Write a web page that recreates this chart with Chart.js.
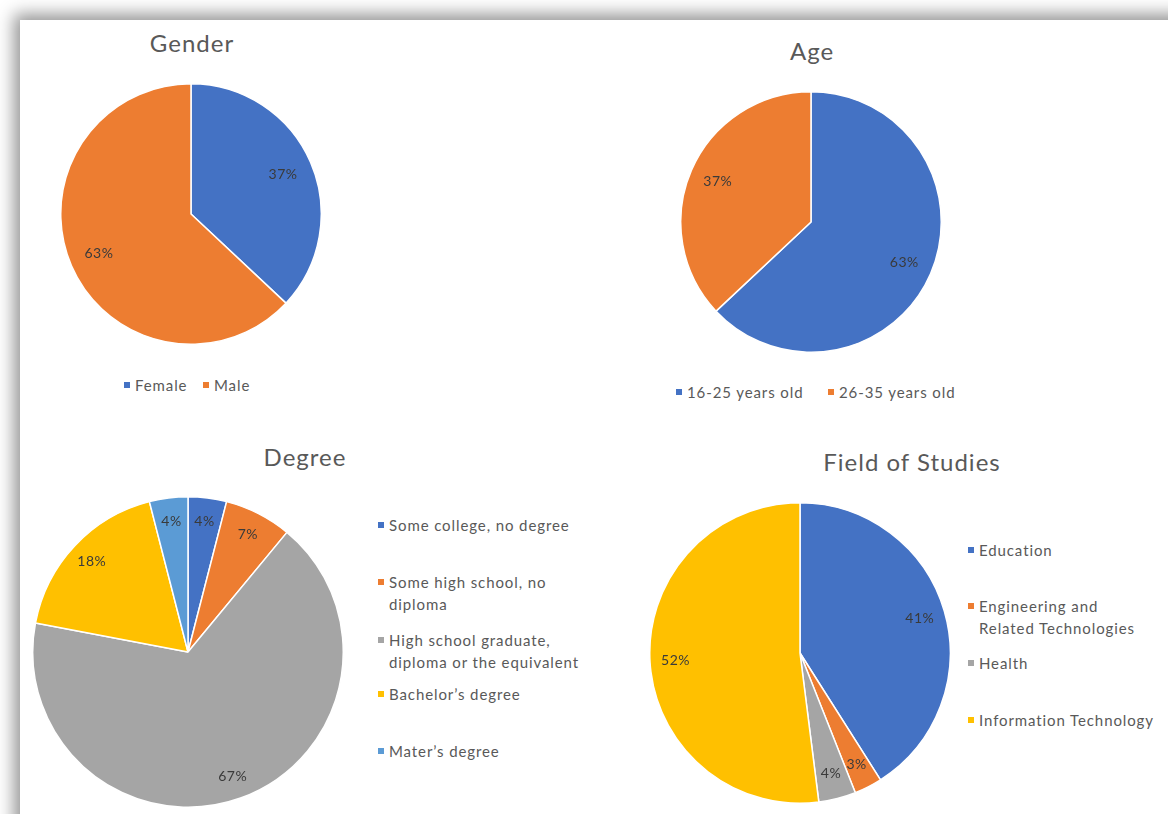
<!DOCTYPE html>
<html>
<head>
<meta charset="utf-8">
<script src="https://cdn.jsdelivr.net/npm/chart.js@4.4.1/dist/chart.umd.min.js"></script>
<style>
  html, body { margin: 0; padding: 0; background: #fff; overflow: hidden; }
  body { width: 1168px; height: 814px; position: relative; font-family: Lato, "Noto Sans", sans-serif; }
  #panel {
    position: absolute; left: 20px; top: 20px; width: 1200px; height: 860px;
    background: #fff; box-shadow: 0 0 16px 6px rgba(0,0,0,0.42);
  }
  .pie { position: absolute; }
  .title { position: absolute; transform: translate(-50%, -50%); color: #595959; font-size: 24px; letter-spacing: 1px; white-space: nowrap; }
  .leg { position: absolute; color: #595959; font-size: 15px; letter-spacing: 0.9px; line-height: 22px; white-space: nowrap; }
  .leg i { display: inline-block; width: 6px; height: 6px; margin-right: 5px; vertical-align: 3px; }
</style>
</head>
<body>
<div id="panel"></div>
<div id="root"></div>
<script>
// Datos de cada gráfico
const genderLabels = ['Female', 'Male'];
const genderValues = [37, 63];

const ageLabels = ['16-25 years old', '26-35 years old'];
const ageValues = [63, 37];

const degreeLabels = ['Some college, no degree', 'Some high school, no diploma',
  'High school graduate, diploma or the equivalent', 'Bachelor\u2019s degree', 'Mater\u2019s degree'];
const degreeValues = [4, 7, 67, 18, 4];

const fieldLabels = ['Education', 'Engineering and Related Technologies', 'Health', 'Information Technology'];
const fieldValues = [41, 3, 4, 52];

const BLUE = '#4472C4', ORANGE = '#ED7D31', GRAY = '#A5A5A5', YELLOW = '#FFC000', LIGHTBLUE = '#5B9BD5';

// Etiquetas de porcentaje dentro de cada porción
const pctLabels = {
  id: 'pctLabels',
  afterDatasetsDraw(chart, args, opts) {
    const ctx = chart.ctx;
    const meta = chart.getDatasetMeta(0);
    const values = chart.data.datasets[0].data;
    ctx.save();
    ctx.font = '14px Lato, "Noto Sans", sans-serif';
    ctx.letterSpacing = '0.5px';
    ctx.fillStyle = '#3a3a3a';
    ctx.textAlign = 'center';
    ctx.textBaseline = 'middle';
    meta.data.forEach((arc, i) => {
      const p = arc.getProps(['x', 'y', 'startAngle', 'endAngle', 'outerRadius'], true);
      const mid = (p.startAngle + p.endAngle) / 2;
      const r = p.outerRadius * (opts.frac || 0.78);
      ctx.fillText(values[i] + '%', p.x + Math.cos(mid) * r, p.y + Math.sin(mid) * r);
    });
    ctx.restore();
  }
};

const root = document.getElementById('root');

function makePie(cfg) {
  const size = cfg.r * 2 + 2;
  const canvas = document.createElement('canvas');
  canvas.className = 'pie';
  canvas.width = size; canvas.height = size;
  canvas.style.left = (cfg.cx - size / 2) + 'px';
  canvas.style.top = (cfg.cy - size / 2) + 'px';
  canvas.style.width = size + 'px';
  canvas.style.height = size + 'px';
  root.appendChild(canvas);

  new Chart(canvas, {
    type: 'pie',
    data: {
      labels: cfg.labels,
      datasets: [{
        data: cfg.values,
        backgroundColor: cfg.colors,
        borderColor: '#ffffff',
        borderWidth: 1.5
      }]
    },
    options: {
      responsive: false,
      animation: false,
      layout: { padding: 0 },
      plugins: {
        legend: { display: false },
        tooltip: { enabled: false },
        pctLabels: { frac: cfg.frac }
      }
    },
    plugins: [pctLabels]
  });

  const t = document.createElement('div');
  t.className = 'title';
  t.textContent = cfg.title;
  t.style.left = cfg.titlePos[0] + 'px';
  t.style.top = cfg.titlePos[1] + 'px';
  root.appendChild(t);

  // Leyenda: cada entrada con su posición
  cfg.legend.forEach((item, i) => {
    const d = document.createElement('div');
    d.className = 'leg';
    d.style.left = item.x + 'px';
    d.style.top = (item.y - 11) + 'px';
    const lines = item.lines || [cfg.labels[i]];
    d.innerHTML = '<i style="background:' + cfg.colors[i] + '"></i>' + lines[0] +
      (lines[1] ? '<br><span style="padding-left:11px">' + lines[1] + '</span>' : '');
    root.appendChild(d);
  });
}

makePie({
  title: 'Gender', titlePos: [192, 42],
  labels: genderLabels, values: genderValues, colors: [BLUE, ORANGE],
  cx: 191, cy: 214, r: 130, frac: 0.77,
  legend: [{ x: 124, y: 385 }, { x: 203, y: 385 }]
});

makePie({
  title: 'Age', titlePos: [812, 50],
  labels: ageLabels, values: ageValues, colors: [BLUE, ORANGE],
  cx: 811, cy: 222, r: 130, frac: 0.78,
  legend: [{ x: 676, y: 392 }, { x: 828, y: 392 }]
});

makePie({
  title: 'Degree', titlePos: [305, 456],
  labels: degreeLabels, values: degreeValues, colors: [BLUE, ORANGE, GRAY, YELLOW, LIGHTBLUE],
  cx: 188, cy: 652, r: 155, frac: 0.85,
  legend: [
    { x: 378, y: 525 },
    { x: 378, y: 582, lines: ['Some high school, no', 'diploma'] },
    { x: 378, y: 640, lines: ['High school graduate,', 'diploma or the equivalent'] },
    { x: 378, y: 694 },
    { x: 378, y: 751 }
  ]
});

makePie({
  title: 'Field of Studies', titlePos: [912, 461],
  labels: fieldLabels, values: fieldValues, colors: [BLUE, ORANGE, GRAY, YELLOW],
  cx: 800, cy: 653, r: 150, frac: 0.83,
  legend: [
    { x: 968, y: 550 },
    { x: 968, y: 606, lines: ['Engineering and', 'Related Technologies'] },
    { x: 968, y: 663 },
    { x: 968, y: 720 }
  ]
});
</script>
</body>
</html>
